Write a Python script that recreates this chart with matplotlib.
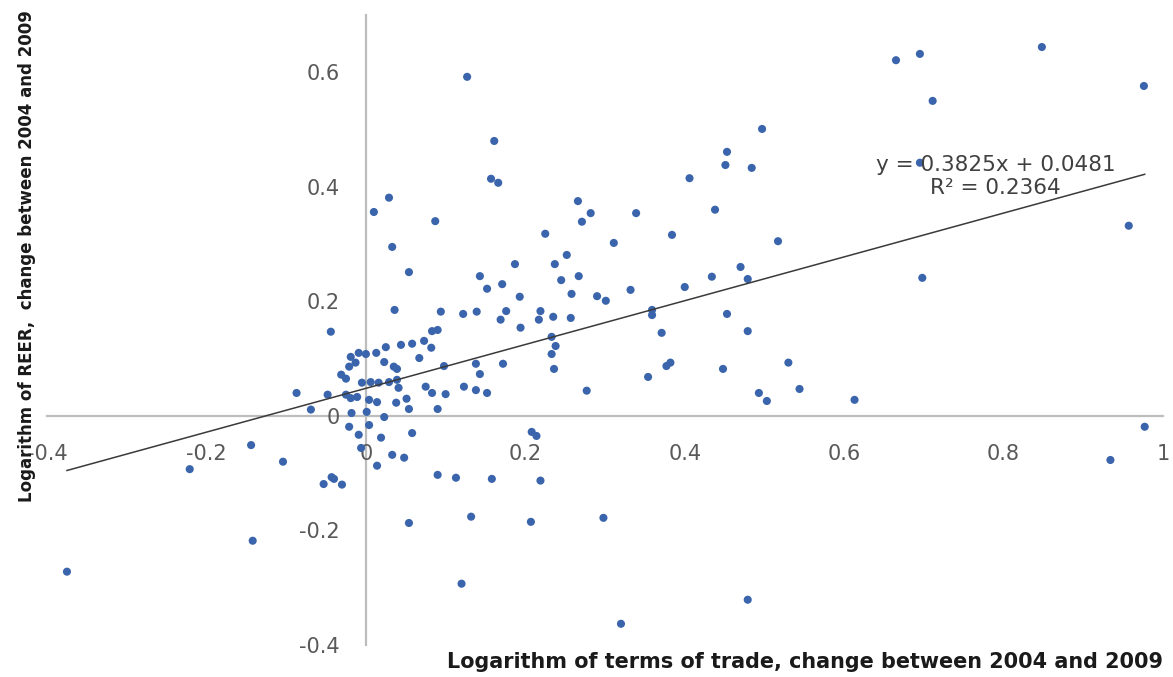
import matplotlib
matplotlib.use('Agg')
import matplotlib.pyplot as plt
from matplotlib.ticker import FuncFormatter

plt.rcParams['font.family'] = ['DejaVu Sans']
plt.rcParams['axes.unicode_minus'] = False

# log change 2004-2009: terms of trade (x) vs REER (y), one point per country
tot_x = [
    0.127, 0.161, 0.157, 0.166, 0.029, 0.010, 0.087, 0.033, 0.054, 0.036,
    -0.044, 0.665, 0.695, 0.848, 0.711, 0.976, 0.957, 0.698, 0.517, 0.695,
    0.497, 0.484, 0.453, 0.451, 0.406, 0.438, 0.282, 0.271, 0.266, 0.339,
    0.311, 0.384, 0.225, 0.252, 0.187, 0.237, 0.267, 0.245, 0.143, 0.152,
    0.171, 0.193, 0.258, 0.290, 0.301, 0.332, 0.400, 0.434, 0.470, 0.479,
    0.359, 0.359, 0.371, 0.453, 0.479, 0.094, 0.122, 0.139, 0.176, 0.169,
    0.194, 0.219, 0.217, 0.235, 0.257, 0.083, 0.090, 0.073, 0.082, 0.233,
    0.238, 0.233, 0.067, 0.098, 0.138, 0.143, 0.172, 0.236, 0.277, 0.354,
    0.377, 0.382, 0.448, 0.493, 0.503, 0.530, 0.544, 0.613, 0.977, 0.934,
    0.075, 0.083, 0.100, 0.123, 0.138, 0.152, 0.090, 0.208, 0.214, 0.090,
    0.113, 0.158, 0.219, 0.054, 0.132, 0.207, 0.298, 0.120, 0.320, 0.479,
    -0.144, -0.221, -0.104, -0.053, -0.040, -0.030, -0.142, -0.375, -0.087, -0.048,
    -0.069, -0.019, -0.009, 0.000, 0.013, 0.025, 0.044, 0.058, -0.021, -0.013,
    0.023, 0.035, 0.039, -0.031, -0.025, -0.005, 0.006, 0.016, 0.029, 0.039,
    -0.025, -0.019, -0.011, 0.004, 0.014, 0.038, 0.041, 0.051, 0.054, -0.018,
    0.001, 0.023, -0.021, 0.004, -0.009, 0.019, -0.006, 0.058, 0.033, 0.048,
    0.014, -0.043,
]
reer_y = [
    0.592, 0.480, 0.414, 0.407, 0.381, 0.356, 0.340, 0.295, 0.251, 0.185,
    0.147, 0.621, 0.632, 0.644, 0.550, 0.576, 0.332, 0.241, 0.305, 0.442,
    0.501, 0.433, 0.461, 0.438, 0.415, 0.360, 0.354, 0.339, 0.375, 0.354,
    0.302, 0.316, 0.318, 0.281, 0.265, 0.265, 0.244, 0.237, 0.244, 0.222,
    0.230, 0.208, 0.213, 0.209, 0.201, 0.220, 0.225, 0.243, 0.260, 0.239,
    0.185, 0.176, 0.145, 0.178, 0.148, 0.182, 0.178, 0.182, 0.183, 0.168,
    0.154, 0.183, 0.168, 0.173, 0.171, 0.148, 0.150, 0.131, 0.119, 0.138,
    0.122, 0.108, 0.101, 0.087, 0.091, 0.073, 0.091, 0.082, 0.044, 0.068,
    0.087, 0.093, 0.082, 0.040, 0.026, 0.093, 0.047, 0.028, -0.019, -0.077,
    0.051, 0.040, 0.038, 0.051, 0.045, 0.040, 0.012, -0.028, -0.035, -0.103,
    -0.108, -0.110, -0.113, -0.187, -0.176, -0.185, -0.178, -0.293, -0.363, -0.321,
    -0.051, -0.093, -0.080, -0.119, -0.110, -0.120, -0.218, -0.272, 0.040, 0.037,
    0.011, 0.103, 0.110, 0.108, 0.110, 0.120, 0.124, 0.126, 0.086, 0.093,
    0.094, 0.086, 0.082, 0.072, 0.065, 0.058, 0.059, 0.058, 0.059, 0.063,
    0.037, 0.031, 0.033, 0.028, 0.024, 0.023, 0.049, 0.030, 0.012, 0.005,
    0.007, -0.002, -0.019, -0.016, -0.033, -0.038, -0.056, -0.030, -0.068, -0.073,
    -0.087, -0.107,
]

# fitted trend: y = 0.3825x + 0.0481, R² = 0.2364
slope = 0.3825
intercept = 0.0481
r_squared = 0.2364

x_ticks = [-0.4, -0.2, 0, 0.2, 0.4, 0.6, 0.8, 1]
y_ticks = [-0.4, -0.2, 0, 0.2, 0.4, 0.6]

fig = plt.figure(figsize=(11.73, 6.77), dpi=100)
ax = fig.add_axes([0.0401, 0.0473, 0.9514, 0.9306])

ax.scatter(tot_x, reer_y, s=34, color='#3a64ab', edgecolors='none', zorder=3)

x0, x1 = min(tot_x), max(tot_x)
ax.plot([x0, x1], [slope * x0 + intercept, slope * x1 + intercept],
        color='#3a3a3a', lw=1.1, zorder=4)

ax.set_xlim(-0.4, 1.0)
ax.set_ylim(-0.4, 0.7)

# axes cross at the origin, no box
for side in ['top', 'right']:
    ax.spines[side].set_visible(False)
ax.spines['left'].set_position('zero')
ax.spines['bottom'].set_position('zero')
for side in ['left', 'bottom']:
    ax.spines[side].set_color('#bdbdbd')
    ax.spines[side].set_linewidth(1.6)
    ax.spines[side].set_zorder(1)

ax.set_xticks(x_ticks)
ax.set_yticks(y_ticks)
fmt = FuncFormatter(lambda v, p: '%g' % v)
ax.xaxis.set_major_formatter(fmt)
ax.yaxis.set_major_formatter(fmt)
ax.tick_params(axis='both', length=0, labelsize=15, labelcolor='#595959')
ax.tick_params(axis='x', pad=20)
ax.tick_params(axis='y', pad=19)

ax.text(0.79, 0.418, 'y = %.4fx + %.4f\nR² = %.4f' % (slope, intercept, r_squared),
        ha='center', va='center', fontsize=15.5, color='#404040',
        linespacing=1.2, zorder=5)

xlab = fig.text(447 / 1173, 1 - 662 / 677,
                'Logarithm of terms of trade, change between 2004 and 2009',
                ha='left', va='center', fontsize=14, fontweight='bold',
                color='#1a1a1a')
ylab = fig.text(27 / 1173, 1 - 256 / 677,
                'Logarithm of REER,  change between 2004 and 2009',
                rotation=90, ha='center', va='center', fontsize=13,
                fontweight='bold', color='#1a1a1a')

# size the axis titles to their pixel lengths
renderer = fig.canvas.get_renderer()
w = xlab.get_window_extent(renderer).width
xlab.set_fontsize(14 * 718 / w)
h = ylab.get_window_extent(renderer).height
ylab.set_fontsize(13 * 490 / h)

fig.savefig('out.png', dpi=100)
